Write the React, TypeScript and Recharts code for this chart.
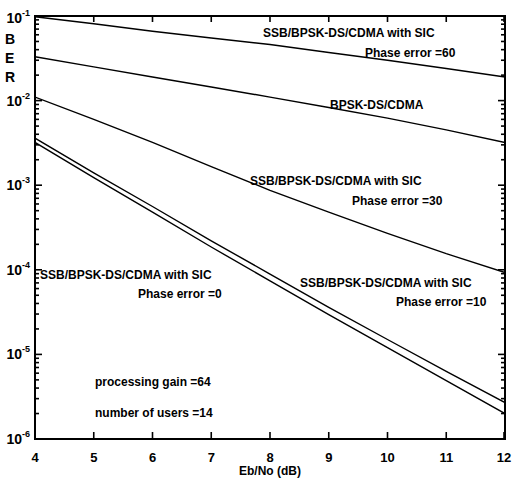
import React from 'react'
import { LineChart, Line, XAxis, YAxis } from 'recharts'

// Eb/No (dB) sample points
const ebno = [4, 5, 6, 7, 8, 9, 10, 11, 12]

// BER curves
const berSicPe60 = [0.098, 0.081, 0.066, 0.055, 0.046, 0.037, 0.03, 0.024, 0.019]
const berBpsk = [0.033, 0.025, 0.019, 0.0145, 0.011, 0.0083, 0.0062, 0.0045, 0.0032]
const berSicPe30 = [0.011, 0.006, 0.0032, 0.00166, 0.00087, 0.00048, 0.00027, 0.000155, 0.000093]
const berSicPe10 = [0.0036, 0.0014, 0.00056, 0.00022, 0.000089, 0.000036, 0.000015, 0.0000063, 0.0000027]
const berSicPe0 = [0.0032, 0.00123, 0.00048, 0.000186, 0.000074, 0.0000295, 0.000012, 0.0000049, 0.000002]

const decades = [-6, -5, -4, -3, -2, -1]
const yTicks: number[] = []
decades.forEach((d) => {
  if (d === -1) {
    yTicks.push(0.1)
    return
  }
  for (let m = 1; m <= 9; m++) yTicks.push(m * Math.pow(10, d))
})

const data = ebno.map((x, i) => ({
  x,
  pe60: berSicPe60[i],
  bpsk: berBpsk[i],
  pe30: berSicPe30[i],
  pe10: berSicPe10[i],
  pe0: berSicPe0[i],
}))

// layout
const W = 512
const H = 481
const Y_AXIS_W = 35
const X_AXIS_H = 42
const M_TOP = 16
const M_RIGHT = 7
const PLOT_W = W - M_RIGHT - Y_AXIS_W
const PLOT_H = H - M_TOP - X_AXIS_H

const FONT = 'Arial, "Liberation Sans", Helvetica, sans-serif'
const INK = 'black'

function isDecade(v: number) {
  const l = Math.log10(v)
  return Math.abs(l - Math.round(l)) < 1e-6
}

// left ticks + mirrored ticks on the right frame edge
function LeftTick(props: any) {
  const { x, y, payload } = props
  const v = payload.value
  const major = isDecade(v)
  const len = major ? 7 : 4
  const exp = Math.round(Math.log10(v))
  return (
    <g>
      <path d={`M${x},${y}h${len}`} stroke={INK} strokeWidth={1.6} fill="none" />
      <path d={`M${x + PLOT_W},${y}h${-len}`} stroke={INK} strokeWidth={1.6} fill="none" />
      {major && (
        <text x={x - 5} y={y + 5 + (exp === -1 ? 2 : 0)} textAnchor="end" fontFamily={FONT} fontSize={14} fontWeight="bold" fill={INK}>
          <tspan>10</tspan>
          <tspan dy={-7} fontSize={9}>{exp}</tspan>
        </text>
      )}
    </g>
  )
}

// bottom ticks + mirrored ticks on the top frame edge
function BottomTick(props: any) {
  const { x, y, payload } = props
  return (
    <g>
      <path d={`M${x},${y}v-7`} stroke={INK} strokeWidth={1.6} fill="none" />
      <path d={`M${x},${y - PLOT_H}v6`} stroke={INK} strokeWidth={1.6} fill="none" />
      <text x={x} y={y + 23} textAnchor="middle" fontFamily={FONT} fontSize={13} fontWeight="bold" fill={INK}>
        {payload.value}
      </text>
    </g>
  )
}

const labelStyle: React.CSSProperties = {
  position: 'absolute',
  fontFamily: FONT,
  fontSize: 12,
  fontWeight: 'bold',
  color: INK,
  whiteSpace: 'nowrap',
  lineHeight: '12px',
}

export default function App() {
  return (
    <div style={{ position: 'absolute', left: 0, top: 0, width: W, height: H, background: '#fff', overflow: 'hidden' }}>
      <LineChart width={W} height={H} data={data} margin={{ top: M_TOP, right: M_RIGHT, bottom: 0, left: 0 }}>
        <XAxis
          dataKey="x"
          type="number"
          domain={[4, 12]}
          ticks={ebno}
          allowDataOverflow
          height={X_AXIS_H}
          tickSize={0}
          tickMargin={0}
          axisLine={{ stroke: INK, strokeWidth: 2 }}
          tick={<BottomTick />}
        />
        <YAxis
          type="number"
          scale="log"
          domain={[1e-6, 1e-1]}
          ticks={yTicks}
          allowDataOverflow
          width={Y_AXIS_W}
          tickSize={0}
          tickMargin={0}
          interval={0}
          axisLine={{ stroke: INK, strokeWidth: 2 }}
          tick={<LeftTick />}
        />
        {(['pe60', 'bpsk', 'pe30', 'pe10', 'pe0'] as const).map((k) => (
          <Line
            key={k}
            dataKey={k}
            type="linear"
            stroke={INK}
            strokeWidth={1.4}
            dot={false}
            isAnimationActive={false}
          />
        ))}
      </LineChart>

      {/* plot frame */}
      <div
        style={{
          position: 'absolute',
          left: Y_AXIS_W - 1,
          top: M_TOP - 1,
          width: PLOT_W + 2,
          height: PLOT_H + 2,
          border: '2px solid black',
          boxSizing: 'border-box',
          pointerEvents: 'none',
        }}
      />

      {/* y axis title, stacked letters */}
      {['B', 'E', 'R'].map((c, i) => (
        <div key={c} style={{ ...labelStyle, fontSize: 14, lineHeight: '14px', left: 5, top: 32 + i * 19 }}>{c}</div>
      ))}

      <div style={{ ...labelStyle, left: 263, top: 27 }}>SSB/BPSK-DS/CDMA with SIC</div>
      <div style={{ ...labelStyle, left: 365, top: 47 }}>Phase error =60</div>

      <div style={{ ...labelStyle, left: 330, top: 99 }}>BPSK-DS/CDMA</div>

      <div style={{ ...labelStyle, left: 250, top: 175 }}>SSB/BPSK-DS/CDMA with SIC</div>
      <div style={{ ...labelStyle, left: 352, top: 195 }}>Phase error =30</div>

      <div style={{ ...labelStyle, left: 40, top: 269 }}>SSB/BPSK-DS/CDMA with SIC</div>
      <div style={{ ...labelStyle, left: 138, top: 288 }}>Phase error =0</div>

      <div style={{ ...labelStyle, left: 300, top: 277 }}>SSB/BPSK-DS/CDMA with SIC</div>
      <div style={{ ...labelStyle, left: 396, top: 296 }}>Phase error =10</div>

      <div style={{ ...labelStyle, left: 95, top: 376 }}>processing gain =64</div>
      <div style={{ ...labelStyle, left: 95, top: 407 }}>number of users =14</div>

      <div style={{ ...labelStyle, left: 170, width: 200, textAlign: 'center', top: 465 }}>Eb/No (dB)</div>
    </div>
  )
}
